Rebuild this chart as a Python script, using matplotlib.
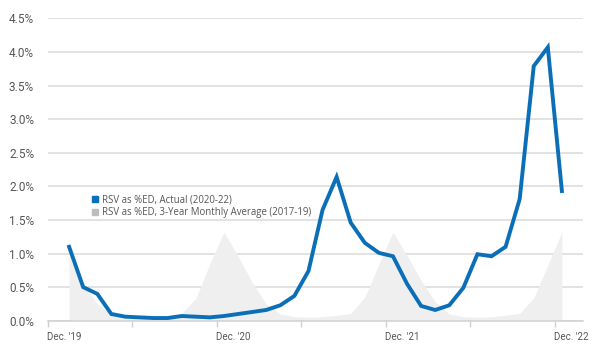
import matplotlib.pyplot as plt
import numpy as np
from matplotlib.patches import Patch

# monthly values, Jan 2020 .. Dec 2022 (category 0 = Dec '19 is left empty)
actual = [1.10, 0.50, 0.40, 0.10, 0.06, 0.05, 0.04, 0.04, 0.07, 0.06, 0.05, 0.07,
          0.10, 0.13, 0.16, 0.23, 0.37, 0.74, 1.65, 2.14, 1.46, 1.16, 1.01, 0.96,
          0.55, 0.22, 0.16, 0.23, 0.49, 0.99, 0.96, 1.10, 1.81, 3.79, 4.07, 1.93]
avg_3yr = [1.00, 0.55, 0.25, 0.10, 0.06, 0.05, 0.06, 0.08, 0.11, 0.33, 0.85, 1.32,
           0.96, 0.57, 0.25, 0.10, 0.06, 0.05, 0.06, 0.08, 0.11, 0.35, 0.84, 1.32,
           0.97, 0.60, 0.28, 0.10, 0.06, 0.05, 0.06, 0.08, 0.11, 0.34, 0.83, 1.32]
tick_labels = ["Dec. '19", "Dec. '20", "Dec. '21", "Dec. '22"]
y_ticks = [0.0, 0.5, 1.0, 1.5, 2.0, 2.5, 3.0, 3.5, 4.0, 4.5]

BLUE = '#0a6fb7'
GRAY = '#efefef'
TXT = '#555555'

plt.rcParams['font.family'] = ['Roboto', 'DejaVu Sans']

fig = plt.figure(figsize=(6, 3.54), dpi=100)
ax = fig.add_axes([0.08, 0.094, 0.8917, 0.854])

x = np.arange(1, len(actual) + 1)
ax.fill_between(x, 0, avg_3yr, color=GRAY, linewidth=0, zorder=1)
ax.plot(x, actual, color=BLUE, linewidth=2.8, solid_joinstyle='miter', zorder=3)

ax.set_xlim(-0.5, 37.5)
ax.set_ylim(0, 4.5)

ax.set_yticks(y_ticks)
ax.set_yticklabels(['{:.1f}%'.format(v) for v in y_ticks])
ax.grid(axis='y', color='#dadada', linewidth=1.1, zorder=0)
ax.set_axisbelow(True)

ax.set_xticks(np.arange(-0.5, 36, 6))
ax.set_xticklabels([])
ax.set_xticks([0.65 + 12 * k for k in range(len(tick_labels))], minor=True)
ax.set_xticklabels(tick_labels, minor=True)
ax.tick_params(axis='x', which='major', length=4, color='#d0d0d0', width=1)
ax.tick_params(axis='x', which='minor', length=0, pad=8, labelsize=7, labelcolor=TXT)
ax.tick_params(axis='y', length=0, pad=10, labelsize=8.5, labelcolor=TXT)

for s in ['top', 'right', 'left']:
    ax.spines[s].set_visible(False)
ax.spines['bottom'].set_color('#d0d0d0')
ax.spines['bottom'].set_linewidth(1.1)

handles = [Patch(color=BLUE, label='RSV as %ED, Actual (2020-22)'),
           Patch(color='#bdbdbd', label='RSV as %ED, 3-Year Monthly Average (2017-19)')]
leg = fig.legend(handles=handles, loc='upper left', bbox_to_anchor=(0.145, 0.465),
                 frameon=False, prop={'family': 'Open Sans', 'size': 6.9},
                 handlelength=0.6, handleheight=0.6,
                 handletextpad=0.5, labelspacing=0.2, borderpad=0)
for t in leg.get_texts():
    t.set_color(TXT)

fig.savefig('out.png', dpi=100)
